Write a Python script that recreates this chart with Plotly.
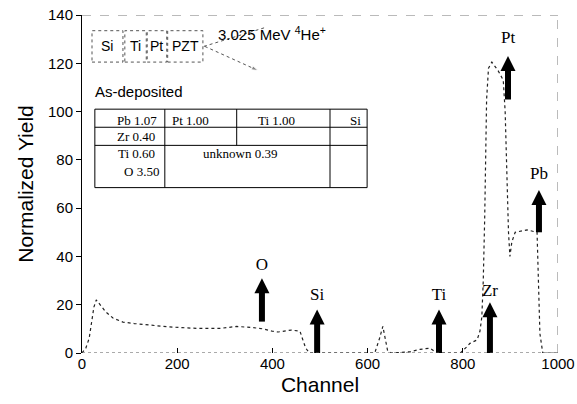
import plotly.graph_objects as go

# Spectrum
channel = [0, 8, 15, 20, 25, 30, 38, 50, 65, 86, 110, 136, 160, 178, 210, 241, 290, 325, 360, 380,
           400, 412, 440, 458, 463, 470, 478, 500, 560, 615, 625, 632, 638, 642, 650, 689, 710, 731,
           738, 745, 760, 795, 808, 815, 830, 836, 840, 843, 846, 850, 854, 861, 874, 885, 889, 893,
           896, 899, 903, 910, 935, 956, 958, 962, 968, 1000]
yield_ = [0, 2, 6, 12, 19, 22, 20, 17, 14.5, 12.8, 12.2, 11.6, 11.2, 10.9, 10.5, 10.2, 10.2, 11, 10.5, 10,
          9, 8.7, 9.5, 9, 6, 2, 0, 0, 0, 0, 6, 11, 5, 1, 0, 0.5, 1.5, 2,
          1, 0, 0, 0, 2.5, 4, 5.4, 9, 15, 30, 56, 105, 118, 120.5, 117, 113, 100, 70,
          50, 40, 46, 50, 51, 50, 36, 8, 0, 0]

# Element marker arrows
arrow_labels = ["O", "Si", "Ti", "Zr", "Pt", "Pb"]
arrow_ch = [378, 494, 750, 857, 895, 960]
arrow_base = [13, 0, 0, 0, 105, 50]
arrow_tip = [31, 18, 18, 21, 123, 67.5]
label_y = [36, 23.6, 23.6, 25.5, 130, 74]

x_ticks = [0, 200, 400, 600, 800, 1000]
y_ticks = [0, 20, 40, 60, 80, 100, 120, 140]

# Sample schematic layers
layer_names = ["Si", "Ti", "Pt", "PZT"]
layer_x0 = [21, 90, 137, 180]
layer_x1 = [86, 135, 178, 254]

# Composition table
table_texts = ["Pb 1.07", "Pt 1.00", "Ti 1.00", "Si", "Zr 0.40", "Ti 0.60", "unknown 0.39", "O 3.50"]
table_tx = [115, 227, 408, 574, 114, 114, 332, 124]
table_ty = [96.5, 96.5, 96.5, 96.5, 89.5, 82.5, 82.5, 75]

# Beam geometry (channel / yield coordinates of the sketch)
beam_in_x = [256, 388]
beam_in_y = [127, 135]
beam_out_x = [258, 370]
beam_out_y = [127, 117]

fig = go.Figure()
fig.add_trace(go.Scatter(x=channel, y=yield_, mode="lines",
                         line=dict(color="#222", width=1.2, dash="dot"),
                         hoverinfo="skip", showlegend=False))

# arrow shafts
shaft_x, shaft_y = [], []
for c, b, t in zip(arrow_ch, arrow_base, arrow_tip):
    shaft_x += [c, c, None]
    shaft_y += [b, t - 3, None]
fig.add_trace(go.Scatter(x=shaft_x, y=shaft_y, mode="lines",
                         line=dict(color="black", width=6),
                         hoverinfo="skip", showlegend=False))
# arrow heads
fig.add_trace(go.Scatter(x=arrow_ch, y=arrow_tip, mode="markers",
                         marker=dict(symbol="arrow-up", size=15, color="black",
                                     line=dict(width=0)),
                         hoverinfo="skip", showlegend=False))
# element labels
fig.add_trace(go.Scatter(x=arrow_ch, y=label_y, mode="text", text=arrow_labels,
                         textfont=dict(family="Liberation Serif", size=17, color="black"),
                         hoverinfo="skip", showlegend=False))

# beam lines
fig.add_trace(go.Scatter(x=beam_in_x, y=beam_in_y, mode="lines",
                         line=dict(color="#555", width=1, dash="dot"),
                         hoverinfo="skip", showlegend=False))
fig.add_trace(go.Scatter(x=beam_out_x, y=beam_out_y, mode="lines+markers",
                         line=dict(color="#555", width=1, dash="dot"),
                         marker=dict(symbol="arrow", size=[0, 7], angleref="previous", color="#555"),
                         hoverinfo="skip", showlegend=False))

ann = []
serif = dict(family="Liberation Serif", size=13, color="black")
for t, tx, ty in zip(table_texts, table_tx, table_ty):
    ann.append(dict(x=tx, y=ty, xref="x", yref="y", text=t, showarrow=False, font=serif))

sans = dict(family="Liberation Sans", size=14, color="black")
for name, a, b in zip(layer_names, layer_x0, layer_x1):
    ann.append(dict(x=(a + b) / 2, y=127, xref="x", yref="y", text=name, showarrow=False, font=sans))

ann.append(dict(x=120, y=108.5, xref="x", yref="y", text="As-deposited", showarrow=False,
                font=dict(family="Liberation Sans", size=15, color="black")))
ann.append(dict(x=400, y=132.5, xref="x", yref="y",
                text="3.025 MeV <sup>4</sup>He<sup>+</sup>", showarrow=False,
                font=dict(family="Liberation Sans", size=15, color="black")))

shapes = []
dash_line = dict(color="#777", width=1, dash="dash")
# frame: top and right dashed, bottom dotted
shapes.append(dict(type="line", xref="x", yref="y", x0=0, x1=1000, y0=140, y1=140, line=dash_line))
shapes.append(dict(type="line", xref="x", yref="y", x0=1000, x1=1000, y0=0, y1=140, line=dash_line))
shapes.append(dict(type="line", xref="x", yref="y", x0=0, x1=1000, y0=0, y1=0,
                   line=dict(color="#555", width=1, dash="dot")))
# sample layers
for a, b in zip(layer_x0, layer_x1):
    shapes.append(dict(type="rect", xref="x", yref="y", x0=a, x1=b, y0=120.5, y1=133.5,
                       line=dict(color="#555", width=1, dash="dot")))
# table grid
tl = dict(color="black", width=1)
shapes.append(dict(type="rect", xref="x", yref="y", x0=27, x1=599, y0=68.5, y1=101, line=tl))
shapes.append(dict(type="line", xref="x", yref="y", x0=27, x1=599, y0=93.5, y1=93.5, line=tl))
shapes.append(dict(type="line", xref="x", yref="y", x0=27, x1=599, y0=86, y1=86, line=tl))
shapes.append(dict(type="line", xref="x", yref="y", x0=174, x1=174, y0=68.5, y1=101, line=tl))
shapes.append(dict(type="line", xref="x", yref="y", x0=325, x1=325, y0=86, y1=101, line=tl))
shapes.append(dict(type="line", xref="x", yref="y", x0=521, x1=521, y0=68.5, y1=101, line=tl))

fig.update_layout(
    width=577, height=404,
    margin=dict(l=82, r=19, t=15, b=51),
    paper_bgcolor="white", plot_bgcolor="white",
    annotations=ann, shapes=shapes, showlegend=False,
    xaxis=dict(range=[0, 1000], tickvals=x_ticks, ticks="inside", ticklen=5, tickcolor="black",
               showline=False, showgrid=False, zeroline=False, automargin=False,
               tickfont=dict(family="Liberation Sans", size=15, color="black"),
               title=dict(text="Channel", standoff=6,
                          font=dict(family="Liberation Sans", size=21, color="black"))),
    yaxis=dict(range=[0, 140], tickvals=y_ticks, ticks="outside", ticklen=5, tickcolor="black",
               showline=True, linecolor="black", linewidth=1, showgrid=False, zeroline=False,
               automargin=False,
               tickfont=dict(family="Liberation Sans", size=15, color="black"),
               title=dict(text="Normalized Yield", standoff=8,
                          font=dict(family="Liberation Sans", size=21, color="black"))),
)

fig.write_html("out.html")
